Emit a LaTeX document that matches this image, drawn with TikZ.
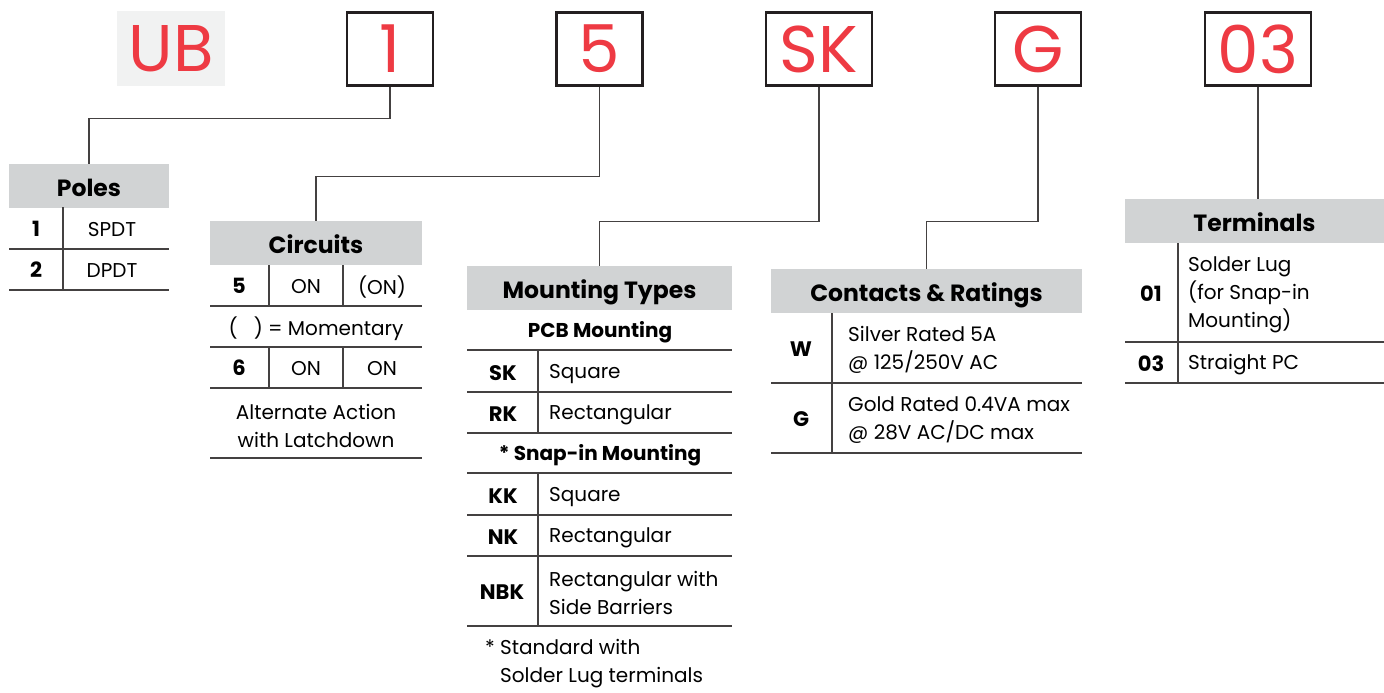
\documentclass[tikz,border=0pt]{standalone}
\usepackage{fontspec}
\setmainfont{Poppins}
\usetikzlibrary{positioning}
\definecolor{codered}{HTML}{EE3A43}
\definecolor{headgray}{HTML}{D1D3D4}
\definecolor{ubgray}{HTML}{F1F2F2}
\definecolor{ink}{HTML}{231F20}

\tikzset{
  codebox/.style={draw=ink, line width=2.5pt, minimum width=86pt, minimum height=73pt,
    inner sep=0pt, text=codered, font=\fontsize{66}{66}\selectfont},
  head/.style={fill=headgray, inner sep=0pt, minimum height=44pt, text height=20pt, text depth=0pt,
    font=\bfseries\fontsize{23.5}{23.5}\selectfont},
  key/.style={inner sep=0pt, yshift=-1pt, font=\bfseries\fontsize{21}{21}\selectfont},
  subhead/.style={inner sep=0pt, yshift=-1pt, font=\bfseries\fontsize{20}{20}\selectfont},
  desc/.style={inner sep=0pt, yshift=-2pt, align=left, font=\fontsize{20}{28}\selectfont},
  conn/.style={draw=ink!85, line width=1.3pt},
  rule/.style={draw=ink!85, line width=1.3pt},
}

\begin{document}
\begin{tikzpicture}[x=1pt, y=-1pt]
  \useasboundingbox (0,0) rectangle (1384,693);

  % code boxes
  \node[fill=ubgray, minimum width=108pt, minimum height=75pt, inner sep=0pt,
        text=codered, font=\fontsize{66}{66}\selectfont] (ub) at (171,48.5) {UB};
  \node[codebox] (b1)  at (390,49) {1};
  \node[codebox] (b5)  at (599.5,49) {5};
  \node[codebox, minimum width=106pt] (bsk) at (819,49) {SK};
  \node[codebox] (bg)  at (1038,49) {G};
  \node[codebox, minimum width=106pt] (b03) at (1258,49) {03};

  % headers
  \node[head, minimum width=160pt] (poles) at (89,186) {Poles};
  \node[head, minimum width=212pt] (circ)  at (316,243) {Circuits};
  \node[head, minimum width=265pt] (mount) at (599.5,288) {Mounting Types};
  \node[head, minimum width=311pt] (cont)  at (926.5,291) {Contacts \& Ratings};
  \node[head, minimum width=259pt] (term)  at (1254.5,221) {Terminals};

  % connectors
  \draw[conn] (b1.south) -- ++(0,32) -| (poles.north);
  \draw[conn] (b5.south) -- ++(0,90) -| (circ.north);
  \draw[conn] (bsk.south) -- ++(0,135) -| (mount.north);
  \draw[conn] (bg.south) -- ++(0,135) -| (cont.north);
  \draw[conn] (b03.south) -- (b03.south |- term.north);

  % poles
  \draw[rule] (9,249) -- (169,249) (9,290) -- (169,290) (63,207) -- (63,290);
  \node[key] (p1) at (36,228) {1};
  \node[desc] (p1d) at (112,228) {SPDT};
  \node[key] (p2) at (36,269) {2};
  \node[desc] (p2d) at (112,269) {DPDT};

  % circuits
  \draw[rule] (210,306) -- (422,306) (210,347) -- (422,347)
              (210,388) -- (422,388) (210,458) -- (422,458);
  \draw[rule] (269,265) -- (269,306) (343,265) -- (343,306)
              (269,347) -- (269,388) (343,347) -- (343,388);
  \node[key] (c5) at (239,285) {5};
  \node[desc] (c5a) at (306,285) {ON};
  \node[desc] (c5b) at (382,285) {(ON)};
  \node[desc] (cmom) at (316,327) {(\hspace{0.8em}) = Momentary};
  \node[key] (c6) at (239,367) {6};
  \node[desc] (c6a) at (306,367) {ON};
  \node[desc] (c6b) at (382,367) {ON};
  \node[desc, align=center] (calt) at (316,424) {Alternate Action\\with Latchdown};

  % mounting types
  \foreach \y in {350,392,433,473,515,556,626}
    \draw[rule] (467,\y) -- (732,\y);
  \draw[rule] (538,350) -- (538,433) (538,473) -- (538,626);
  \node[subhead] (pcb) at (600,331) {PCB Mounting};
  \node[key] (msk) at (503,372) {SK};
  \node[desc, anchor=west] (msq) at (549,372) {Square};
  \node[key] (mrk) at (503,413) {RK};
  \node[desc, anchor=west] (mre) at (549,413) {Rectangular};
  \node[subhead] (snap) at (600,454) {* Snap-in Mounting};
  \node[key] (mkk) at (503,495) {KK};
  \node[desc, anchor=west] (msq2) at (549,495) {Square};
  \node[key] (mnk) at (503,536) {NK};
  \node[desc, anchor=west] (mre2) at (549,536) {Rectangular};
  \node[key] (mnbk) at (502,591) {NBK};
  \node[desc, anchor=west] (mside) at (549,591) {Rectangular with\\Side Barriers};
  \node[desc, anchor=west] (mnote) at (500,662) {\llap{* }Standard with\\Solder Lug terminals};

  % contacts & ratings
  \draw[rule] (771,383) -- (1082,383) (771,453) -- (1082,453) (832,313) -- (832,453);
  \node[key] (cw) at (801,348) {W};
  \node[desc, anchor=west] (cwd) at (848,348) {Silver Rated 5A\\@ 125/250V AC};
  \node[key] (cg) at (801,418) {G};
  \node[desc, anchor=west] (cgd) at (848,418) {Gold Rated 0.4VA max\\@ 28V AC/DC max};

  % terminals
  \draw[rule] (1125,342) -- (1384,342) (1125,383) -- (1384,383) (1178,243) -- (1178,383);
  \node[key] (t01) at (1151,293) {01};
  \node[desc, anchor=west] (t01d) at (1188,293) {Solder Lug\\(for Snap-in\\Mounting)};
  \node[key] (t03) at (1151,363) {03};
  \node[desc, anchor=west] (t03d) at (1188,363) {Straight PC};
\end{tikzpicture}
\end{document}
